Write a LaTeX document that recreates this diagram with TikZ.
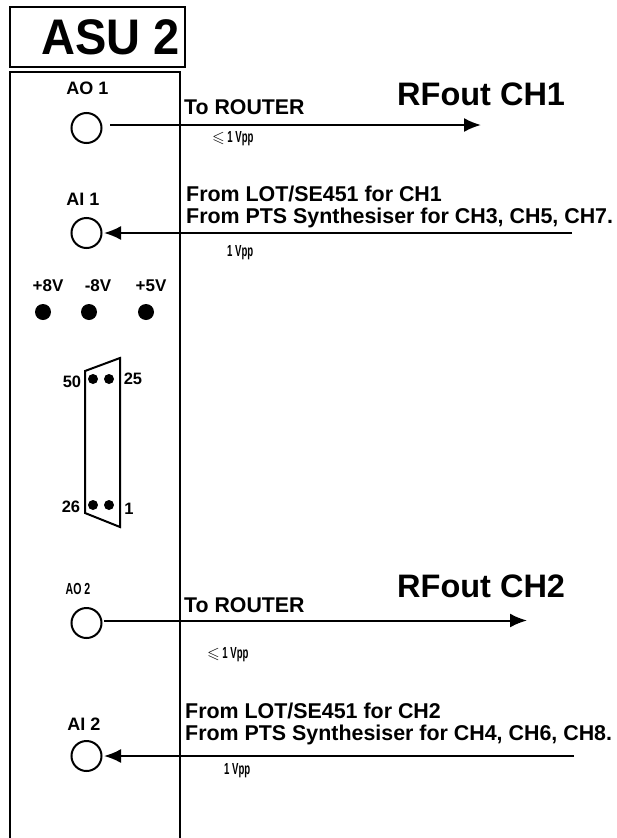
\documentclass[tikz,border=0pt]{standalone}
\usepackage{amssymb}
\usepackage{graphicx}
\usepackage{fontspec}
\setmainfont{Liberation Sans}
\usetikzlibrary{arrows.meta}
\newcommand{\wideleq}{\scalebox{1.7}[1.0]{$\leqslant$}}
\begin{document}
\begin{tikzpicture}[x=1pt,y=-1pt,
  lbl/.style={inner sep=0pt,font=\bfseries\fontsize{#1}{#1}\selectfont},
  llbl/.style={inner sep=0pt,anchor=base west,font=\bfseries\fontsize{#1}{#1}\selectfont},
  tiny/.style={inner sep=0pt,anchor=west,font=\bfseries\fontsize{16}{16}\selectfont,xscale=.6},
  jack/.style={circle,draw,line width=2pt,minimum size=30pt,inner sep=0pt},
  led/.style={circle,fill=black,minimum size=16pt,inner sep=0pt},
  pin/.style={circle,fill=black,minimum size=10pt,inner sep=0pt},
  wire/.style={line width=2pt},
  tipped/.style={wire,-{Latex[length=17pt,width=14pt]}},
  boxline/.style={draw,line width=2pt}]
\useasboundingbox (0,0) rectangle (616,838);
% title and panel
\node[boxline,minimum width=175pt,minimum height=60pt,inner sep=0pt] (title) at (97.5,37) {};
\node[llbl=50,xscale=.94] (asu) at (41,54) {ASU 2};
\coordinate (pbl) at (10,838); \coordinate (ptl) at (10,72);
\coordinate (ptr) at (180,72); \coordinate (pbr) at (180,838);
\draw[line width=2pt] (pbl) -- (ptl) -- (ptr) -- (pbr);
% jacks
\node[jack] (ao1) at (86.5,128) {};
\node[jack] (ai1) at (86.5,233) {};
\node[jack] (ao2) at (86.5,623) {};
\node[jack] (ai2) at (86.5,756) {};
\node[lbl=18] (ao1l) at (87.5,88) {AO 1};
\node[lbl=18] (ai1l) at (83,199) {AI 1};
\node[lbl=16,xscale=.66] (ao2l) at (78,589) {AO 2};
\node[lbl=18] (ai2l) at (84,724) {AI 2};
% wires
\coordinate (w1a) at (110,125); \coordinate (w1b) at (481,125);
\coordinate (w2a) at (572,233); \coordinate (w2b) at (104,233);
\coordinate (w3a) at (104,620.5); \coordinate (w3b) at (527,620.5);
\coordinate (w4a) at (574,756); \coordinate (w4b) at (104,756);
\draw[tipped] (w1a) -- (w1b);
\draw[tipped] (w2a) -- (w2b);
\draw[tipped] (w3a) -- (w3b);
\draw[tipped] (w4a) -- (w4b);
% right-hand labels
\node[llbl=32.5] (rf1) at (397,105) {RFout CH1};
\node[llbl=32.5] (rf2) at (397,597) {RFout CH2};
\node[llbl=21.3] (tr1) at (184,114.5) {To ROUTER};
\node[llbl=21.3] (tr2) at (184,612) {To ROUTER};
\node[llbl=21.4] (f1a) at (186,201.5) {From LOT/SE451 for CH1};
\node[llbl=21.4] (f1b) at (186,223) {From PTS Synthesiser for CH3, CH5, CH7.};
\node[llbl=21.4] (f2a) at (185,718.5) {From LOT/SE451 for CH2};
\node[llbl=21.4] (f2b) at (185,740) {From PTS Synthesiser for CH4, CH6, CH8.};
\node[tiny] (v1) at (212,139) {\wideleq\ 1 Vpp};
\node[tiny] (v2) at (227,253) {1 Vpp};
\node[tiny] (v3) at (207,655) {\wideleq\ 1 Vpp};
\node[tiny] (v4) at (224,771) {1 Vpp};
% LEDs
\node[lbl=17] (p8) at (48,286) {+8V};
\node[lbl=17] (m8) at (98,286) {-8V};
\node[lbl=17] (p5) at (151,286) {+5V};
\node[led] (l1) at (43,312) {};
\node[led] (l2) at (89,312) {};
\node[led] (l3) at (146,312) {};
% connector
\coordinate (c1) at (85,371); \coordinate (c2) at (120,358);
\coordinate (c3) at (120,527); \coordinate (c4) at (85,513);
\draw[line width=2pt] (c1) -- (c2) -- (c3) -- (c4) -- cycle;
\node[pin] (d1) at (93,379) {};
\node[pin] (d2) at (109,379) {};
\node[pin] (d3) at (93,505) {};
\node[pin] (d4) at (109,505) {};
\node[lbl=16.5] (n50) at (72,382) {50};
\node[lbl=16.5] (n25) at (133,379) {25};
\node[lbl=16.5] (n26) at (71,507) {26};
\node[lbl=16.5] (n1) at (129,509) {1};
\end{tikzpicture}
\end{document}
